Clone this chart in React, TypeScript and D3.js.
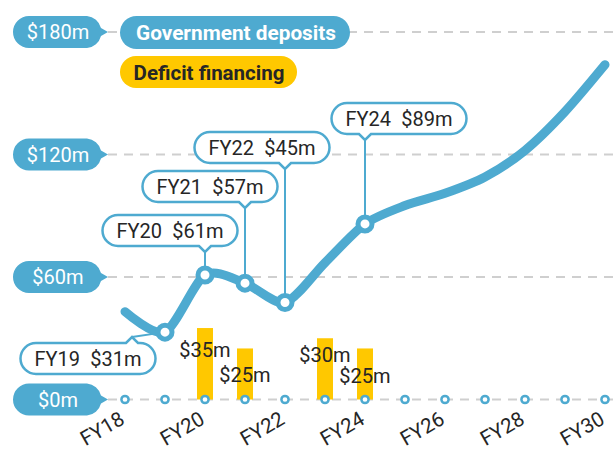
import React from "react";
import * as d3 from "d3";

// government deposits, $m, one value per financial year
const years = [2018, 2019, 2020, 2021, 2022, 2023, 2024, 2025, 2026, 2027, 2028, 2029, 2030];
const deposits = [43, 33, 61, 57, 47.5, 67, 86, 95, 101, 109, 122, 141, 164];

// deficit financing bars
const barYears = [2020, 2021, 2023, 2024];
const barValues = [35, 25, 30, 25];

const yTicks = [0, 60, 120, 180];
const xTickYears = [2018, 2020, 2022, 2024, 2026, 2028, 2030];

// annotated points
const calloutYears = [2019, 2020, 2021, 2022, 2024];
const calloutLabels = ["FY19\u2002$31m", "FY20\u2002$61m", "FY21\u2002$57m", "FY22\u2002$45m", "FY24\u2002$89m"];

const BLUE = "#4eaad0";
const YELLOW = "#ffc800";
const TEXT = "#262626";
const GRID = "#cfcfcf";
const FONT = "Roboto, 'DejaVu Sans', sans-serif";

const W = 613;
const H = 451;

// callout placement: box centre offset from point, box top, pointer offset, pointer on top?
const calloutLayout = [
  { dx: -77, top: 343, px: -33, up: true },
  { dx: -35, top: 215, px: 0, up: false },
  { dx: -35, top: 171, px: 0, up: false },
  { dx: -23, top: 132, px: 0, up: false },
  { dx: 34, top: 103, px: 0, up: false },
];

const BOX_W = 135;
const BOX_H = 31;

function calloutPath(cx: number, top: number, px: number, up: boolean) {
  const x0 = cx - BOX_W / 2;
  const x1 = cx + BOX_W / 2;
  const y0 = top;
  const y1 = top + BOX_H;
  const r = BOX_H / 2;
  const t = 6;
  if (up) {
    return `M${x0 + r},${y0} L${px - t},${y0} L${px},${y0 - t} L${px + t},${y0} L${x1 - r},${y0}
      A${r},${r} 0 0 1 ${x1 - r},${y1} L${x0 + r},${y1} A${r},${r} 0 0 1 ${x0 + r},${y0} Z`;
  }
  return `M${x0 + r},${y0} L${x1 - r},${y0} A${r},${r} 0 0 1 ${x1 - r},${y1}
    L${px + t},${y1} L${px},${y1 + t} L${px - t},${y1} L${x0 + r},${y1}
    A${r},${r} 0 0 1 ${x0 + r},${y0} Z`;
}

function pillPath(x0: number, cy: number, w: number, h: number, tip: number) {
  const r = h / 2;
  const y0 = cy - r;
  const y1 = cy + r;
  const xr = x0 + w - r;
  return `M${x0 + r},${y0} L${xr},${y0} A${r},${r} 0 0 1 ${x0 + w - 2},${cy - 4}
    L${x0 + w + tip},${cy} L${x0 + w - 2},${cy + 4} A${r},${r} 0 0 1 ${xr},${y1}
    L${x0 + r},${y1} A${r},${r} 0 0 1 ${x0 + r},${y0} Z`;
}

export default function App() {
  const x = d3.scaleLinear().domain([2018, 2030]).range([125, 605]);
  const y = d3.scaleLinear().domain([0, 180]).range([399.5, 32]);

  const line = d3
    .line<number>()
    .x((_, i) => x(years[i]))
    .y((d) => y(d))
    .curve(d3.curveCardinal.tension(0.2));

  const valueAt = (yr: number) => deposits[years.indexOf(yr)];
  const barW = 16;
  const barLabelDy = [29, 34, 24, 35];

  return (
    <svg width={W} height={H} style={{ position: "absolute", left: 0, top: 0, background: "#fff" }} fontFamily={FONT}>
      {/* gridlines */}
      {yTicks.map((t) => (
        <line key={t} x1={108} x2={W} y1={y(t)} y2={y(t)} stroke={GRID} strokeWidth={2} strokeDasharray="9,7" />
      ))}

      {/* deficit bars */}
      {barYears.map((yr, i) => (
        <rect key={yr} x={x(yr) - barW / 2} y={y(barValues[i])} width={barW} height={y(0) - y(barValues[i])} fill={YELLOW} />
      ))}
      {barYears.map((yr, i) => (
        <text key={"bl" + yr} x={x(yr)} y={y(barValues[i]) + barLabelDy[i]} textAnchor="middle" fontSize={20} fill={TEXT}>
          ${barValues[i]}m
        </text>
      ))}

      {/* zero line year dots */}
      {years.map((yr) => (
        <circle key={"z" + yr} cx={x(yr)} cy={y(0)} r={3.6} fill="#fff" stroke={BLUE} strokeWidth={2.5} />
      ))}

      {/* leaders */}
      {calloutYears.map((yr, i) => {
        const L = calloutLayout[i];
        const px = x(yr) + L.px;
        const ty = L.up ? L.top - 6 : L.top + BOX_H + 6;
        return <line key={"ld" + yr} x1={px} y1={ty} x2={x(yr)} y2={y(valueAt(yr))} stroke={BLUE} strokeWidth={2} />;
      })}

      {/* deposits line */}
      <path d={line(deposits) || ""} fill="none" stroke={BLUE} strokeWidth={9} strokeLinecap="round" strokeLinejoin="round" />
      {calloutYears.map((yr) => (
        <circle key={"d" + yr} cx={x(yr)} cy={y(valueAt(yr))} r={7} fill="#fff" stroke={BLUE} strokeWidth={5} />
      ))}

      {/* callouts */}
      {calloutYears.map((yr, i) => {
        const L = calloutLayout[i];
        const cx = x(yr) + L.dx;
        return (
          <g key={"c" + yr}>
            <path d={calloutPath(cx, L.top, x(yr) + L.px, L.up)} fill="#fff" stroke={BLUE} strokeWidth={2.5} />
            <text x={cx} y={L.top + BOX_H / 2 + 7} textAnchor="middle" fontSize={20} fill={TEXT}>
              {calloutLabels[i]}
            </text>
          </g>
        );
      })}

      {/* y axis pills */}
      {yTicks.map((t) => (
        <g key={"p" + t}>
          <path d={pillPath(13, y(t), 90, 32, 5)} fill={BLUE} />
          <text x={58} y={y(t) + 7} textAnchor="middle" fontSize={20} fill="#fff">
            ${t}m
          </text>
        </g>
      ))}

      {/* legend */}
      <rect x={120} y={16} width={230} height={33} rx={16.5} fill={BLUE} />
      <text x={236} y={40} textAnchor="middle" fontSize={20.8} fontWeight="bold" fill="#fff">
        Government deposits
      </text>
      <rect x={120} y={56} width={177} height={32} rx={16} fill={YELLOW} />
      <text x={209} y={79.5} textAnchor="middle" fontSize={20.5} fontWeight="bold" fill={TEXT}>
        Deficit financing
      </text>

      {/* x axis labels */}
      {xTickYears.map((yr) => (
        <text
          key={"x" + yr}
          transform={`translate(${x(yr) + 1},${423}) rotate(-30)`}
          textAnchor="end"
          fontSize={20.5}
          fill={TEXT}
        >
          FY{String(yr).slice(2)}
        </text>
      ))}
    </svg>
  );
}
